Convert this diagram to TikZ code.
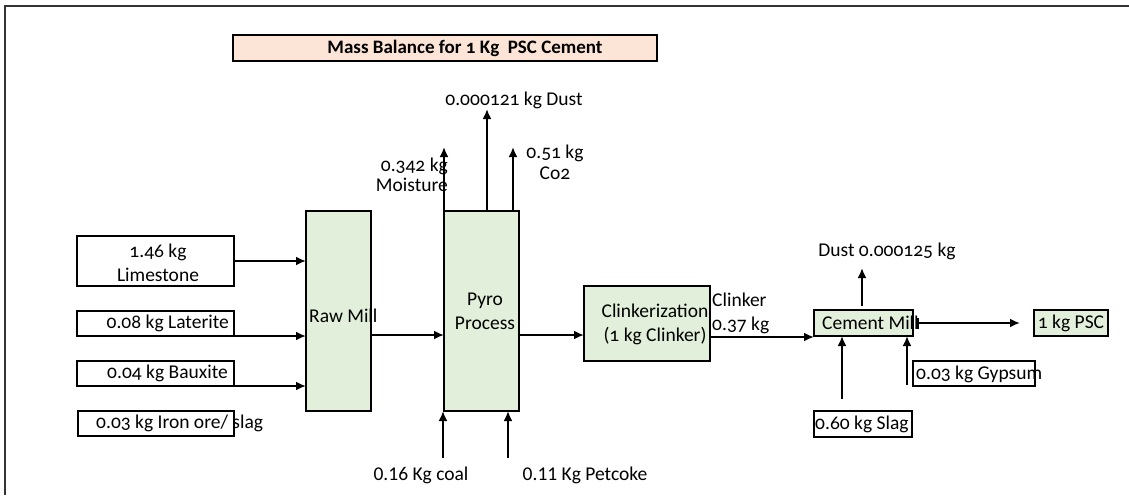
\documentclass[tikz,border=0pt]{standalone}
\usepackage{fontspec}
\setmainfont{Carlito}
\newfontfamily\osf{Carlito}[Numbers=OldStyle]
\usetikzlibrary{arrows.meta,calc}
\definecolor{boxgreen}{HTML}{E2EFDA}
\definecolor{peach}{HTML}{FCE4D6}
\newcommand\lblfont{\fontsize{19.5}{24}\selectfont\osf}
\newcommand\linfont{\fontsize{19.5}{24}\selectfont}
\begin{document}
\begin{tikzpicture}[x=1pt,y=-1pt,
  bx/.style={draw, line width=2.2pt, inner sep=0pt, outer sep=0pt, anchor=north west, fill=white},
  gbx/.style={bx, fill=boxgreen},
  lbl/.style={inner sep=0pt, font=\lblfont, align=center},
  lin/.style={inner sep=0pt, font=\linfont, align=center},
  arr/.style={line width=2pt, -{Latex[length=10pt,width=9pt]}}]
\useasboundingbox (0,0) rectangle (1129,495);
% frame
\draw[line width=1.6pt, black!80] (4.7,495) -- (4.7,6) -- (1129,6);
% title
\node[draw, line width=2.2pt, fill=peach, inner sep=0pt, outer sep=0pt, minimum width=424, minimum height=26, anchor=north west] (titlebox) at (233,35) {};
\node[inner sep=0pt, font=\fontsize{19}{20}\selectfont\bfseries\osf] (title) at (465,48) {Mass Balance for 1 Kg~ PSC Cement};
% boxes
\node[bx, minimum width=157, minimum height=50] (lime) at (77,236) {};
\node[bx, minimum width=157, minimum height=25] (lat) at (77,311) {};
\node[bx, minimum width=157, minimum height=25] (baux) at (77,361) {};
\node[bx, minimum width=156, minimum height=25] (iron) at (78,411) {};
\node[gbx, minimum width=65, minimum height=200] (raw) at (306,211) {};
\node[gbx, minimum width=75, minimum height=200] (pyro) at (444,211) {};
\node[gbx, minimum width=126, minimum height=75] (clink) at (584,286) {};
\node[gbx, minimum width=99, minimum height=26] (cmill) at (814,310) {};
\node[gbx, minimum width=74, minimum height=26] (psc) at (1034,310) {};
\node[bx, minimum width=98, minimum height=26] (slag) at (814,411) {};
\node[bx, minimum width=122, minimum height=25] (gyp) at (913,361) {};
% texts
\node[lbl] (tlime) at (158,263) {1.46 kg\\Limestone};
\node[lbl, anchor=east] (tlat) at (229,323.5) {0.08 kg Laterite};
\node[lbl, anchor=east] (tbaux) at (228,373.5) {0.04 kg Bauxite};
\node[lbl, anchor=west] (tiron) at (96,423.5) {0.03 kg Iron ore/ slag};
\node[lbl, anchor=west] (traw) at (309,316) {Raw Mill};
\node[lbl] (tpyro) at (485,311) {Pyro\\Process};
\node[lbl] (tclink) at (655,324) {Clinkerization\\(1 kg Clinker)};
\node[lbl, anchor=west, align=left] (tclinker) at (712,313) {Clinker\\0.37 kg};
\node[lbl, anchor=west] (tcmill) at (822,323) {Cement Mill};
\node[lbl] (tpsc) at (1071,323) {1 kg PSC};
\node[lbl, anchor=west] (tslag) at (815,424) {0.60 kg Slag};
\node[lbl, anchor=west] (tgyp) at (916,374) {0.03 kg Gypsum};
\node[lbl] (tdust2) at (887,251) {Dust 0.000125 kg};
\node[lbl] (tdust1) at (514,100) {0.000121 kg Dust};
\node[lbl, anchor=east, align=right] (tmoist) at (448,175) {0.342 kg\\[-4pt]Moisture};
\node[lbl] (tco2) at (555,162) {0.51 kg\\[-3pt]Co2};
\node[lin] (tcoal) at (421,475) {0.16 Kg coal};
\node[lin] (tpet) at (585,475) {0.11 Kg Petcoke};
% arrows into raw mill
\draw[arr] (lime.east) -- (lime.east -| raw.west);
\draw[arr] (lat.south east) -- (lat.south east -| raw.west);
\draw[arr] (baux.south east) -- (baux.south east -| raw.west);
% main line
\draw[arr] ($(raw.east)+(0,24)$) -- ($(pyro.west)+(0,24)$);
\coordinate (pyout) at ($(pyro.east)+(0,24)$);
\draw[arr] (pyout) -- (pyout -| clink.west);
% pyro outputs
\draw[arr] (pyro.north west) -- ++(0,-64);
\draw[arr] ($(pyro.north)+(5.5,0)$) -- ++(0,-102);
\draw[arr] ($(pyro.north east)+(-6,0)$) -- ++(0,-64);
% pyro inputs
\coordinate (coal) at (443,458);
\coordinate (pet) at (508,458);
\draw[arr] (coal) -- (coal |- pyro.south);
\draw[arr] (pet) -- (pet |- pyro.south);
% clinker to cement mill
\coordinate (clout) at ($(clink.east)+(0,13.5)$);
\draw[arr] (clout) -- (clout -| cmill.west);
% cement mill
\draw[arr] ($(cmill.north)+(-1.5,-4)$) -- ++(0,-38);
\draw[line width=2pt, {Bar[width=11pt]}-{Latex[length=10pt,width=9pt]}] ($(cmill.east)+(4,0)$) -- ($(psc.west)+(-14,0)$);
\coordinate (slagin) at ($(slag.north west)+(28,-12)$);
\draw[arr] (slagin) -- (slagin |- cmill.south);
\coordinate (gypin) at ($(gyp.north west)+(-6,24)$);
\draw[arr] (gypin) -- (gypin |- cmill.south);
\end{tikzpicture}
\end{document}
